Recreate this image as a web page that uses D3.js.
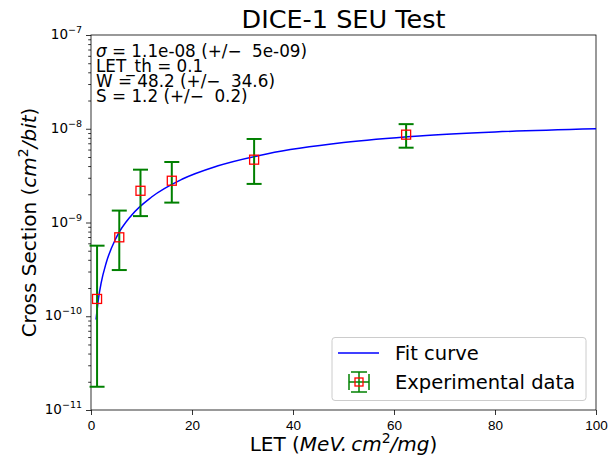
<!DOCTYPE html>
<html lang="en">
<head>
  <meta charset="UTF-8">
  <title>DICE-1 SEU Test</title>
  <script src="https://cdn.jsdelivr.net/npm/d3@7"></script>
  <style>
    body { margin: 0; background: #fff; }
    svg { font-family: "DejaVu Sans", sans-serif; }
    .axis path, .axis line { stroke: #000; stroke-width: 0.8; }
    .axis text { font-size: 13.5px; fill: #000; }
    .fit { fill: none; stroke: #0000ff; stroke-width: 1.5; }
    .err { stroke: #008000; stroke-width: 2; }
    .mark { fill: none; stroke: #ff0000; stroke-width: 1.3; }
  </style>
</head>
<body>
  <svg width="610" height="465"></svg>
  <script>
  // fit curve
  var fitLet = [1, 1.5, 2, 3, 5, 8, 12, 18, 25, 35, 50, 65, 80, 100];
  var fitSigma = [9.2e-11, 1.57e-10, 2.25e-10, 3.7e-10, 6.9e-10, 1.19e-9, 1.87e-9,
                  2.89e-9, 4.0e-9, 5.42e-9, 7.12e-9, 8.37e-9, 9.24e-9, 1.0e-8];

  // experimental points + error bars
  var expLet = [1.2, 5.6, 9.8, 16.0, 32.3, 62.4];
  var expSigma = [1.53e-10, 6.95e-10, 2.18e-9, 2.79e-9, 4.68e-9, 8.65e-9];
  var expLow = [1.77e-11, 3.11e-10, 1.17e-9, 1.63e-9, 2.58e-9, 6.28e-9];
  var expHigh = [5.66e-10, 1.34e-9, 3.66e-9, 4.42e-9, 7.78e-9, 1.12e-8];

  var xTicks = [0, 20, 40, 60, 80, 100];
  var yExp = [-11, -10, -9, -8, -7];

  var fitText = [
    ["σ", " = 1.1e-08 (+/\u2212  5e-09)"],
    ["", "LET_th = 0.1"],
    ["", "W = 48.2 (+/\u2212  34.6)"],
    ["", "S = 1.2 (+/\u2212  0.2)"]
  ];

  var svg = d3.select("svg");
  var L = 91, R = 596, T = 35, B = 410;

  var x = d3.scaleLinear().domain([0, 100]).range([L, R]);
  var y = d3.scaleLog().domain([1e-11, 1e-7]).range([B, T]);

  // title
  svg.append("text").attr("x", (L + R) / 2).attr("y", 28)
    .attr("text-anchor", "middle").style("font-size", "25.5px")
    .text("DICE-1 SEU Test");

  // x axis
  svg.append("g").attr("class", "axis")
    .attr("transform", "translate(0," + B + ")")
    .call(d3.axisBottom(x).tickValues(xTicks).tickSize(5).tickPadding(5).tickFormat(d3.format("d")))
    .call(g => g.select(".domain").remove());

  // y axis: major + minor ticks
  var majors = yExp.map(e => Math.pow(10, e));
  var minors = [];
  yExp.slice(0, -1).forEach(function(e) {
    for (var k = 2; k < 10; k++) minors.push(k * Math.pow(10, e));
  });
  svg.append("g").attr("class", "axis")
    .attr("transform", "translate(" + L + ",0)")
    .call(d3.axisLeft(y).tickValues(majors).tickSize(5).tickFormat(""))
    .call(g => g.select(".domain").remove());
  svg.append("g").attr("class", "axis")
    .attr("transform", "translate(" + L + ",0)")
    .call(d3.axisLeft(y).tickValues(minors).tickSize(2.8).tickFormat(""))
    .call(g => g.select(".domain").remove());

  var ylab = svg.append("g").selectAll("text").data(yExp).enter().append("text")
    .attr("x", 82).attr("y", d => y(Math.pow(10, d)) + 4)
    .attr("text-anchor", "end").style("font-size", "13.5px");
  ylab.append("tspan").text("10");
  ylab.append("tspan").attr("dy", -6).style("font-size", "9.5px").text(d => "\u2212" + (-d));

  // frame
  svg.append("rect").attr("x", L).attr("y", T).attr("width", R - L).attr("height", B - T)
    .attr("fill", "none").attr("stroke", "#000").attr("stroke-width", 0.8);

  // axis labels
  var xl = svg.append("text").attr("x", (L + R) / 2).attr("y", 451)
    .attr("text-anchor", "middle").style("font-size", "20px");
  xl.append("tspan").text("LET (");
  xl.append("tspan").style("font-style", "italic").text("MeV.\u2009cm");
  xl.append("tspan").attr("dy", -8).style("font-size", "14px").text("2");
  xl.append("tspan").attr("dy", 8).style("font-style", "italic").text("/mg");
  xl.append("tspan").text(")");

  var yl = svg.append("text").attr("transform", "translate(36," + ((T + B) / 2) + ")rotate(-90)")
    .attr("text-anchor", "middle").style("font-size", "20px");
  yl.append("tspan").text("Cross Section (");
  yl.append("tspan").style("font-style", "italic").text("cm");
  yl.append("tspan").attr("dy", -8).style("font-size", "14px").text("2");
  yl.append("tspan").attr("dy", 8).style("font-style", "italic").text("/bit");
  yl.append("tspan").text(")");

  // fit curve
  var line = d3.line().x(d => x(d[0])).y(d => y(d[1])).curve(d3.curveMonotoneX);
  svg.append("path").attr("class", "fit")
    .attr("d", line(d3.zip(fitLet, fitSigma)));

  // error bars
  var pts = expLet.map((l, i) => ({ l: l, v: expSigma[i], lo: expLow[i], hi: expHigh[i] }));
  var cap = 7.5;
  var eb = svg.append("g").selectAll("g").data(pts).enter().append("g").attr("class", "err");
  eb.append("line").attr("x1", d => x(d.l)).attr("x2", d => x(d.l))
    .attr("y1", d => y(d.lo)).attr("y2", d => y(d.hi));
  eb.append("line").attr("x1", d => x(d.l) - cap).attr("x2", d => x(d.l) + cap)
    .attr("y1", d => y(d.lo)).attr("y2", d => y(d.lo));
  eb.append("line").attr("x1", d => x(d.l) - cap).attr("x2", d => x(d.l) + cap)
    .attr("y1", d => y(d.hi)).attr("y2", d => y(d.hi));
  svg.append("g").selectAll("rect").data(pts).enter().append("rect").attr("class", "mark")
    .attr("x", d => x(d.l) - 4.5).attr("y", d => y(d.v) - 4.5)
    .attr("width", 9).attr("height", 9);

  // fit parameters text
  var ft = svg.append("g").selectAll("text").data(fitText).enter().append("text")
    .attr("x", 96).attr("y", (d, i) => 56.5 + i * 15)
    .style("font-size", "16.8px").style("white-space", "pre");
  ft.append("tspan").style("font-style", "italic").text(d => d[0]);
  ft.append("tspan").text(d => d[1]);

  // legend
  var lg = svg.append("g");
  lg.append("rect").attr("x", 332).attr("y", 337.5).attr("width", 254).attr("height", 63)
    .attr("rx", 3).attr("fill", "#fff").attr("fill-opacity", 0.8)
    .attr("stroke", "#cccccc").attr("stroke-width", 1);
  lg.append("line").attr("class", "fit").attr("x1", 338).attr("x2", 379)
    .attr("y1", 353).attr("y2", 353);
  var hx = 359, hy = 382, hw = 10;
  var hg = lg.append("g").attr("class", "err").style("stroke-width", 1.5);
  hg.append("line").attr("x1", hx).attr("x2", hx).attr("y1", hy - hw).attr("y2", hy + hw);
  hg.append("line").attr("x1", hx - hw).attr("x2", hx + hw).attr("y1", hy).attr("y2", hy);
  hg.append("line").attr("x1", hx - hw + 2).attr("x2", hx + hw - 2).attr("y1", hy - hw).attr("y2", hy - hw);
  hg.append("line").attr("x1", hx - hw + 2).attr("x2", hx + hw - 2).attr("y1", hy + hw).attr("y2", hy + hw);
  hg.append("line").attr("x1", hx - hw).attr("x2", hx - hw).attr("y1", hy - hw + 2).attr("y2", hy + hw - 2);
  hg.append("line").attr("x1", hx + hw).attr("x2", hx + hw).attr("y1", hy - hw + 2).attr("y2", hy + hw - 2);
  lg.append("rect").attr("class", "mark").attr("x", hx - 4).attr("y", hy - 4)
    .attr("width", 8).attr("height", 8);
  lg.append("text").attr("x", 395).attr("y", 360).style("font-size", "19.5px").text("Fit curve");
  lg.append("text").attr("x", 395).attr("y", 388.5).style("font-size", "19.5px").text("Experimental data");
  </script>
</body>
</html>
